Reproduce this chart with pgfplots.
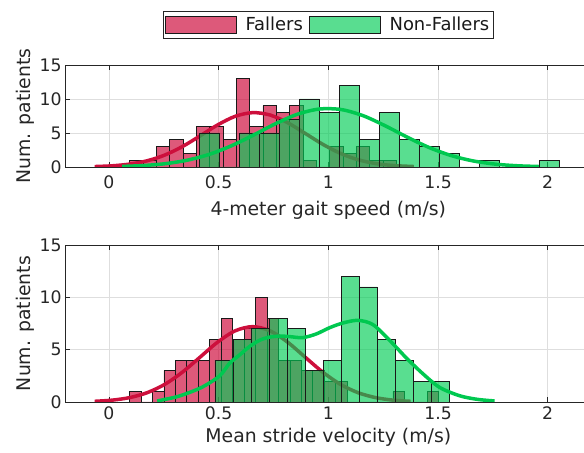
\documentclass[border=0pt]{standalone}
\usepackage{fontspec}
\setmainfont{DejaVu Sans}
\usepackage{pgfplots}
\pgfplotsset{compat=1.18}
\definecolor{fred}{RGB}{204,0,51}
\definecolor{fgreen}{RGB}{0,204,85}
\definecolor{lred}{RGB}{205,15,60}
\definecolor{lgreen}{RGB}{0,200,80}
\pgfplotsset{
  myaxis/.style={
    set layers=standard,
    scale only axis, width=526.6bp,
    xmin=-0.2, xmax=2.2, ymin=0, ymax=15,
    xtick={0,0.5,1,1.5,2}, xticklabels={0,0.5,1,1.5,2},
    ytick={0,5,10,15}, yticklabels={0,5,10,15},
    tick align=inside, major tick length=5bp,
    xtick pos=both, ytick pos=both,
    grid=major, grid style={black!13, line width=0.5bp},
    axis line style={black!85, line width=0.6bp},
    tick style={black!85, line width=0.6bp},
    ticklabel style={font=\fontsize{17.3}{17}\selectfont, text=black!85},
    label style={font=\fontsize{18.9}{19}\selectfont, text=black!85},
    ylabel={Num. patients},
  },
  redbar/.style={ybar interval, fill=fred, fill opacity=0.65, draw=black!90, line width=0.7bp,
    legend image code/.code={\draw[##1] (0bp,-8.5bp) rectangle (71bp,8.5bp); \path (77bp,0bp);}},
  greenbar/.style={ybar interval, fill=fgreen, fill opacity=0.65, draw=black!90, line width=0.7bp,
    legend image code/.code={\draw[##1] (0bp,-8.5bp) rectangle (71bp,8.5bp); \path (77bp,0bp);}},
  redline/.style={lred, line width=3.5bp, smooth, no marks, forget plot},
  greenline/.style={lgreen, line width=3.5bp, smooth, no marks, forget plot},
}
\begin{document}
\begin{tikzpicture}
% ---------------- top panel ----------------
\begin{axis}[myaxis,
  at={(65bp,286bp)}, anchor=south west, height=102bp,
  xlabel={4-meter gait speed (m/s)},
  xlabel style={at={(axis description cs:0.5,-0.42)}, anchor=center},
  ylabel style={at={(axis description cs:-0.076,0.5)}, anchor=center},
  xticklabel style={yshift=-5bp},
  legend style={at={(0.5004,1.397)}, anchor=center, draw=black!85, line width=0.6bp,
    font=\fontsize{18}{18}\selectfont, text=black!90, legend columns=2,
    inner xsep=2bp, inner ysep=3.5bp, nodes={inner sep=2.5bp},
    /tikz/every even column/.append style={column sep=4bp}},
]
\addplot[redbar] coordinates {(0.0943,1) (0.1551,1) (0.2159,3) (0.2766,4) (0.3374,2) (0.3981,6) (0.4589,6) (0.5196,4) (0.5804,13) (0.6412,6) (0.7019,9) (0.7627,8) (0.8234,9) (0.8842,1) (0.9450,0) (1.0057,3) (1.0665,2) (1.1272,3) (1.1880,1) (1.2487,1) (1.3095,0)};
\addlegendentry{Fallers}
\addplot[redline] coordinates {(-0.065,0.065) (0.015,0.176) (0.095,0.427) (0.175,0.918) (0.255,1.759) (0.335,3.003) (0.415,4.564) (0.495,6.177) (0.575,7.446) (0.655,7.994) (0.735,7.643) (0.815,6.508) (0.895,4.935) (0.975,3.333) (1.055,2.004) (1.135,1.073) (1.215,0.512) (1.295,0.217) (1.39,0.068)};
\addplot[greenbar] coordinates {(0.4134,5) (0.5046,0) (0.5957,5) (0.6869,5) (0.7780,7) (0.8692,10) (0.9604,8) (1.0515,12) (1.1427,4) (1.2338,8) (1.3250,4) (1.4162,3) (1.5073,2) (1.5985,0) (1.6896,1) (1.7808,0) (1.8720,0) (1.9631,1) (2.0543,0)};
\addlegendentry{Non-Fallers}
\addplot[greenline] coordinates {(0.06,0.087) (0.16,0.219) (0.26,0.498) (0.36,1.021) (0.46,1.886) (0.56,3.141) (0.66,4.713) (0.76,6.373) (0.86,7.766) (0.96,8.529) (1.06,8.441) (1.16,7.528) (1.26,6.050) (1.36,4.382) (1.46,2.860) (1.56,1.682) (1.66,0.892) (1.76,0.426) (1.86,0.183) (1.96,0.071)};
\end{axis}
% ---------------- bottom panel ----------------
\begin{axis}[myaxis,
  at={(65bp,51bp)}, anchor=south west, height=157bp,
  xlabel={Mean stride velocity (m/s)},
  xlabel style={at={(axis description cs:0.5,-0.225)}, anchor=center},
  ylabel style={at={(axis description cs:-0.076,0.5)}, anchor=center},
  xticklabel style={yshift=-1bp},
]
\addplot[redbar] coordinates {(0.0943,1) (0.1465,0) (0.1987,1) (0.2509,3) (0.3031,4) (0.3553,4) (0.4074,4) (0.4596,6) (0.5118,8) (0.5640,6) (0.6162,7) (0.6684,10) (0.7206,8) (0.7728,4) (0.8250,4) (0.8772,3) (0.9293,3) (0.9815,2) (1.0337,2) (1.0859,0) (1.1381,0) (1.1903,0) (1.2425,0) (1.2947,1) (1.3469,0) (1.3991,0) (1.4512,1) (1.5034,0)};
\addplot[redline] coordinates {(-0.065,0.066) (0.015,0.177) (0.095,0.421) (0.175,0.894) (0.255,1.691) (0.335,2.849) (0.415,4.274) (0.495,5.710) (0.575,6.795) (0.655,7.2) (0.735,6.795) (0.815,5.710) (0.895,4.274) (0.975,2.849) (1.055,1.691) (1.135,0.894) (1.215,0.421) (1.295,0.177) (1.375,0.066)};
\addplot[greenbar] coordinates {(0.4831,4) (0.5653,6) (0.6474,7) (0.7295,8) (0.8117,7) (0.8938,3) (0.9759,4) (1.0581,12) (1.1402,11) (1.2223,6) (1.3044,4) (1.3866,2) (1.4687,2) (1.5508,0)};
\addplot[greenline] coordinates {(0.22,0.1) (0.30,0.45) (0.353,0.8) (0.428,1.45) (0.505,2.5) (0.55,3.7) (0.596,4.5) (0.641,5.3) (0.687,5.9) (0.732,6.2) (0.78,6.3) (0.823,6.25) (0.883,6.15) (0.945,6.5) (1.006,7.1) (1.067,7.55) (1.135,7.8) (1.203,7.4) (1.279,5.9) (1.356,4.2) (1.431,2.7) (1.507,1.4) (1.598,0.6) (1.68,0.25) (1.758,0.1)};
\end{axis}
\pgfresetboundingbox
\path (0bp,0bp) rectangle (584bp,453bp);
\end{tikzpicture}
\end{document}
